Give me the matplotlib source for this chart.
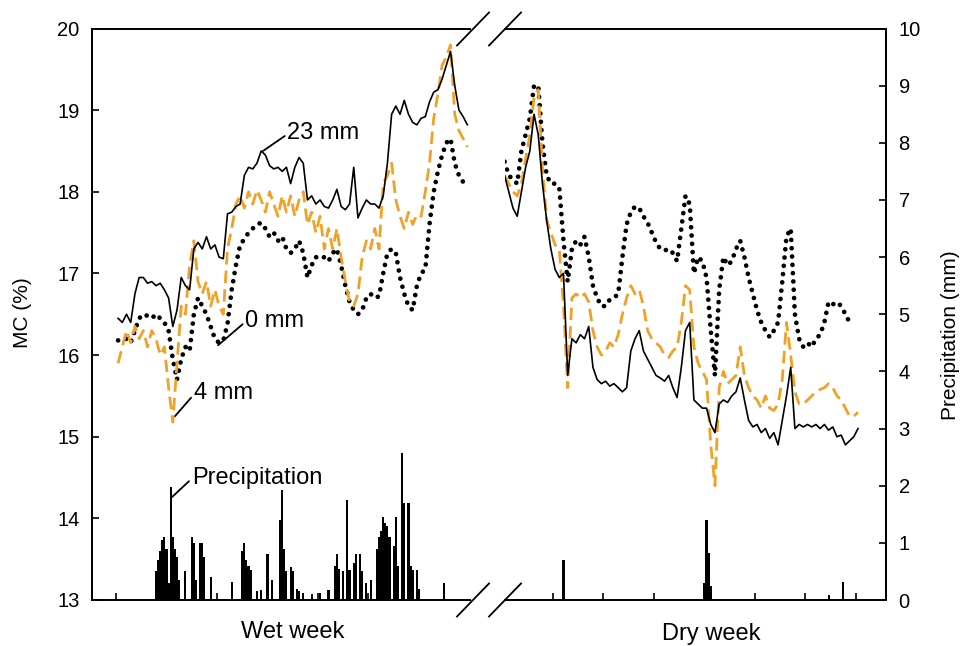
import numpy as np
import matplotlib
matplotlib.use("Agg")
import matplotlib.pyplot as plt
from matplotlib.lines import Line2D

plt.rcParams['font.family'] = ['Liberation Sans', 'DejaVu Sans']

# Moisture content (%) of the three specimens, read every 2 h starting at hour 1
wet_mc_23mm = [16.45, 16.40, 16.50, 16.40, 16.75, 16.95, 16.95, 16.88, 16.90, 16.85,
               16.88, 16.80, 16.70, 16.35, 16.55, 16.95, 16.85, 16.80, 17.30, 17.38,
               17.30, 17.45, 17.30, 17.35, 17.20, 17.18, 17.73, 17.75, 17.82, 17.85,
               18.20, 18.30, 18.28, 18.35, 18.50, 18.45, 18.32, 18.28, 18.30, 18.25,
               18.30, 18.10, 18.30, 18.42, 18.35, 17.90, 17.95, 17.85, 17.90, 17.82,
               17.80, 17.90, 18.03, 17.82, 17.78, 17.85, 18.30, 17.68, 17.80, 17.90,
               17.85, 17.85, 17.80, 17.95, 18.35, 18.95, 19.05, 18.95, 19.12, 18.95,
               18.85, 18.82, 18.90, 18.92, 19.10, 19.22, 19.25, 19.38, 19.55, 19.72,
               19.30, 19.00, 18.92, 18.82]
wet_mc_4mm = [15.90, 16.10, 16.30, 16.15, 16.35, 16.20, 16.30, 16.10, 16.30, 16.20,
              16.00, 16.10, 15.60, 15.18, 15.90, 16.60, 16.50, 17.10, 17.40, 16.90,
              16.75, 16.90, 16.60, 16.80, 16.60, 16.50, 17.30, 17.55, 17.85, 17.95,
              17.80, 18.00, 17.85, 18.02, 17.90, 17.75, 18.00, 17.85, 17.70, 17.95,
              17.75, 17.95, 17.70, 17.90, 18.00, 17.60, 17.75, 17.50, 17.70, 17.30,
              17.55, 17.30, 17.55, 17.20, 16.90, 16.65, 16.60, 16.75, 17.20, 17.40,
              17.30, 17.55, 17.30, 18.10, 18.20, 18.35, 17.90, 17.70, 17.55, 17.75,
              17.60, 17.72, 17.70, 18.00, 18.35, 18.90, 19.20, 19.55, 19.65, 19.80,
              18.95, 18.75, 18.65, 18.55]
wet_mc_0mm = [16.18, 16.18, 16.20, 16.15, 16.30, 16.45, 16.50, 16.48, 16.45, 16.50,
              16.45, 16.40, 16.30, 15.95, 15.70, 15.95, 16.10, 16.05, 16.50, 16.70,
              16.60, 16.50, 16.35, 16.20, 16.15, 16.18, 16.38, 16.80, 17.10, 17.35,
              17.42, 17.50, 17.55, 17.60, 17.62, 17.55, 17.45, 17.50, 17.40, 17.45,
              17.30, 17.25, 17.30, 17.40, 17.25, 16.95, 17.10, 17.20, 17.18, 17.20,
              17.15, 17.25, 17.30, 17.10, 16.85, 16.65, 16.55, 16.50, 16.55, 16.70,
              16.75, 16.70, 16.72, 17.00, 17.25, 17.30, 17.25, 16.95, 16.75, 16.60,
              16.55, 16.85, 17.00, 17.05, 17.60, 18.00, 18.25, 18.45, 18.60, 18.65,
              18.35, 18.20, 18.12, 18.10]

dry_mc_23mm = [18.20, 18.00, 17.80, 17.70, 18.00, 18.30, 18.50, 18.95, 18.70, 18.10,
               17.65, 17.30, 17.05, 16.95, 17.00, 15.75, 16.20, 16.15, 16.25, 16.20,
               16.35, 15.85, 15.70, 15.65, 15.68, 15.62, 15.65, 15.60, 15.55, 15.60,
               16.05, 16.20, 16.30, 16.05, 15.95, 15.85, 15.75, 15.72, 15.68, 15.75,
               15.60, 15.48, 15.85, 16.30, 16.40, 15.45, 15.40, 15.35, 15.35, 15.15,
               15.05, 15.40, 15.45, 15.42, 15.50, 15.55, 15.72, 15.45, 15.20, 15.12,
               15.15, 15.05, 15.10, 14.98, 15.05, 14.90, 15.20, 15.50, 15.85, 15.10,
               15.15, 15.12, 15.15, 15.12, 15.15, 15.10, 15.15, 15.08, 15.12, 15.00,
               15.02, 14.90, 14.95, 15.00, 15.10]
dry_mc_4mm = [18.20, 18.10, 18.00, 17.95, 18.10, 18.40, 18.70, 19.15, 19.25, 18.30,
              17.65, 17.50, 17.35, 17.30, 16.60, 15.60, 16.70, 16.75, 16.70, 16.75,
              16.65, 16.30, 16.10, 16.00, 16.05, 16.15, 16.10, 16.25, 16.50, 16.70,
              16.85, 16.75, 16.80, 16.60, 16.30, 16.20, 16.15, 16.10, 16.00, 15.97,
              16.05, 16.10, 16.40, 16.85, 16.80, 16.10, 15.90, 15.80, 15.70, 14.90,
              14.40, 15.60, 15.80, 15.65, 15.70, 15.75, 16.10, 15.75, 15.60, 15.50,
              15.45, 15.35, 15.50, 15.35, 15.32, 15.40, 15.70, 16.40, 16.00, 15.55,
              15.40, 15.40, 15.45, 15.50, 15.55, 15.58, 15.60, 15.65, 15.60, 15.50,
              15.45, 15.35, 15.25, 15.25, 15.30]
dry_mc_0mm = [18.37, 18.20, 18.15, 18.10, 18.50, 18.70, 18.90, 19.30, 19.30, 18.60,
              18.20, 18.10, 18.10, 18.05, 17.40, 16.90, 17.30, 17.40, 17.35, 17.45,
              17.20, 16.85, 16.70, 16.60, 16.60, 16.68, 16.70, 16.75, 17.20, 17.60,
              17.75, 17.82, 17.80, 17.70, 17.62, 17.50, 17.38, 17.30, 17.28, 17.30,
              17.25, 17.15, 17.55, 17.95, 17.85, 17.00, 17.20, 17.15, 16.95, 16.30,
              15.75, 16.80, 17.20, 17.10, 17.15, 17.30, 17.40, 17.20, 16.95, 16.75,
              16.55, 16.40, 16.30, 16.22, 16.30, 16.40, 16.90, 17.45, 17.55, 16.50,
              16.20, 16.10, 16.15, 16.10, 16.20, 16.25, 16.40, 16.65, 16.62, 16.65,
              16.60, 16.50, 16.40, 16.38]

# Hourly precipitation (mm), hours with rain only
wet_rain_hour = [19, 20, 21, 22, 23, 24, 25, 26, 27, 28, 29, 30, 33, 36, 37, 38, 40, 41,
                 42, 45, 55, 60, 61, 62, 63, 64, 67, 69, 72, 74, 78, 79, 80, 81, 83, 84,
                 86, 87, 89, 93, 97, 101, 104, 105, 106, 108, 110, 111, 113, 114, 116,
                 117, 119, 121, 124, 125, 126, 127, 128, 129, 130, 132, 133, 134, 136,
                 137, 139, 140, 141, 143, 144, 156]
wet_rain_mm = [0.50, 0.70, 0.85, 1.05, 1.10, 0.90, 0.30, 1.97, 1.10, 0.90, 0.75, 0.35,
               0.50, 1.10, 1.00, 0.35, 1.00, 1.00, 0.75, 0.40, 0.32, 0.85, 1.00, 0.70,
               0.60, 0.52, 0.15, 0.17, 0.81, 0.35, 1.40, 1.92, 0.90, 0.50, 0.58, 0.50,
               0.20, 0.15, 0.12, 0.10, 0.12, 0.17, 0.60, 0.80, 0.55, 0.50, 1.75, 0.52,
               0.65, 0.80, 0.80, 0.50, 0.30, 0.35, 0.90, 1.10, 1.20, 1.45, 1.35, 1.30,
               1.10, 0.95, 1.45, 0.60, 2.57, 1.70, 1.70, 0.60, 0.52, 0.52, 0.20, 0.29]
dry_rain_hour = [29, 96, 97, 98, 99, 155, 162]
dry_rain_mm = [0.70, 0.30, 1.40, 0.82, 0.25, 0.08, 0.32]

mc_ticks = [13, 14, 15, 16, 17, 18, 19, 20]
rain_ticks = [0, 1, 2, 3, 4, 5, 6, 7, 8, 9, 10]
wet_day_ticks = [0, 24, 48, 72, 96, 120, 144]
dry_day_ticks = [24, 48, 72, 96, 120, 144, 168]

ORANGE = '#F2A127'
W, H = 961, 646

fig = plt.figure(figsize=(W / 100, H / 100), dpi=100)
fig.patch.set_facecolor('white')

bottom, height = 46 / H, 571.5 / H
ax_wet = fig.add_axes([92 / W, bottom, 378 / W, height])
ax_dry = fig.add_axes([505 / W, bottom, 381 / W, height])
rain_wet = ax_wet.twinx()
rain_dry = ax_dry.twinx()

line_kw = dict(
    solid=dict(color='black', lw=1.2, ls='-'),
    dashed=dict(color=ORANGE, lw=2.0, ls=(0, (4.5, 2.2))),
    dotted=dict(color='black', lw=3.4, ls=(0, (0.01, 1.75)), dash_capstyle='round'),
)


def hours(series):
    return 1 + 2 * np.arange(len(series))


for ax, s23, s4, s0 in [(ax_wet, wet_mc_23mm, wet_mc_4mm, wet_mc_0mm),
                        (ax_dry, dry_mc_23mm, dry_mc_4mm, dry_mc_0mm)]:
    ax.plot(hours(s0), s0, **line_kw['dotted'], zorder=3)
    ax.plot(hours(s4), s4, **line_kw['dashed'], zorder=4)
    ax.plot(hours(s23), s23, **line_kw['solid'], zorder=5)
    ax.set_ylim(13, 20)

for rax, hrs, mm in [(rain_wet, wet_rain_hour, wet_rain_mm),
                     (rain_dry, dry_rain_hour, dry_rain_mm)]:
    rax.bar(hrs, mm, width=1.0, color='black', linewidth=0, zorder=2)
    rax.set_ylim(0, 10)

ax_wet.set_xlim(-11.4, 168.25)
ax_dry.set_xlim(1.2, 182.3)

# Frame: one box split by the axis break
for ax in (ax_wet, rain_wet):
    ax.spines['right'].set_visible(False)
for ax in (ax_dry, rain_dry):
    ax.spines['left'].set_visible(False)
for ax in (ax_wet, ax_dry, rain_wet, rain_dry):
    for sp in ax.spines.values():
        sp.set_linewidth(1.3)

ax_wet.set_yticks(mc_ticks)
ax_wet.tick_params(axis='y', direction='in', length=5, width=1.2, labelsize=14.5, pad=9)
ax_dry.set_yticks([])
rain_wet.set_yticks([])
rain_dry.set_yticks(rain_ticks)
rain_dry.tick_params(axis='y', direction='in', length=5, width=1.2, labelsize=14.5, pad=9)

ax_wet.set_xticks(wet_day_ticks)
ax_dry.set_xticks(dry_day_ticks)
for ax in (ax_wet, ax_dry):
    ax.tick_params(axis='x', direction='in', length=5, width=1.2, labelbottom=False)
for ax in (rain_wet, rain_dry):
    ax.tick_params(axis='x', bottom=False, labelbottom=False)

# Put the moisture lines above the rain bars
for ax, rax in ((ax_wet, rain_wet), (ax_dry, rain_dry)):
    ax.set_zorder(rax.get_zorder() + 1)
    ax.patch.set_visible(False)

fig.text(22 / W, 1 - 313 / H, 'MC (%)', rotation=90, ha='center', va='center', fontsize=15)
fig.text(950 / W, 1 - 335 / H, 'Precipitation (mm)', rotation=90, ha='center',
         va='center', fontsize=15)

ax_wet.text(0.532, -0.056, 'Wet week', transform=ax_wet.transAxes, ha='center',
            va='center', fontsize=17)
ax_dry.text(0.541, -0.059, 'Dry week', transform=ax_dry.transAxes, ha='center',
            va='center', fontsize=17)

# Series labels with leader lines
leader = dict(arrowstyle='-', lw=1.3, color='black', shrinkA=0, shrinkB=0, relpos=(0, 0.45))
ax_wet.annotate('23 mm', xy=(69.9, 18.5), xytext=(81.5, 18.72), ha='left', va='center',
                fontsize=17, arrowprops=leader)
ax_wet.annotate('0 mm', xy=(48.5, 16.12), xytext=(61.5, 16.42), ha='left', va='center',
                fontsize=17, arrowprops=leader)
ax_wet.annotate('4 mm', xy=(28.0, 15.25), xytext=(37.0, 15.53), ha='left', va='center',
                fontsize=17, arrowprops=leader)
ax_wet.annotate('Precipitation', xy=(26.6, 14.26), xytext=(36.0, 14.5), ha='left',
                va='center', fontsize=17, arrowprops=leader)

# Axis break marks
for cx in (473, 505):
    for cy in (29, 600):
        fig.add_artist(Line2D([(cx - 16) / W, (cx + 16) / W],
                              [1 - (cy + 16.5) / H, 1 - (cy - 16.5) / H],
                              transform=fig.transFigure, color='black', lw=1.3))

fig.savefig('out.png', dpi=100, facecolor='white')
